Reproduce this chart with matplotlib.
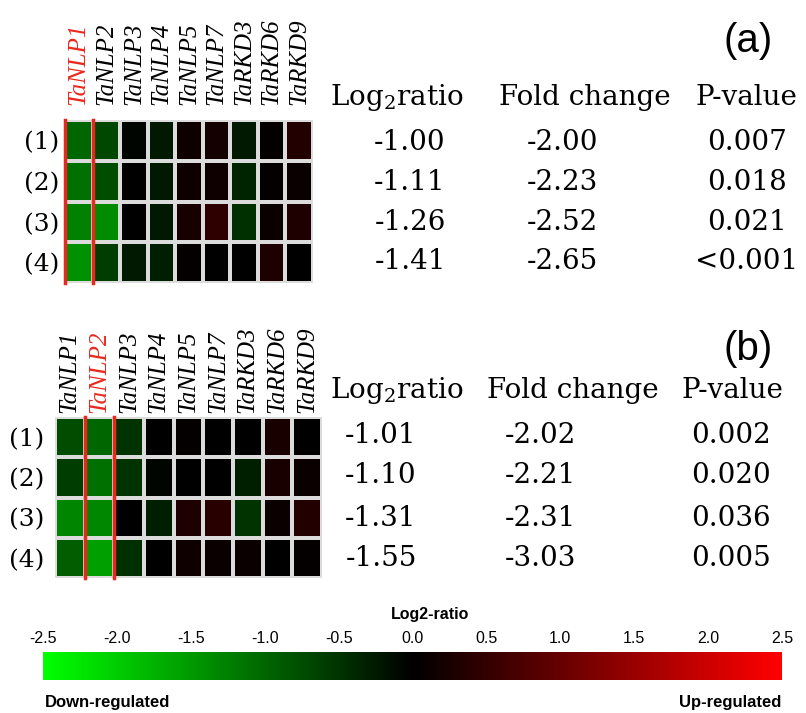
import numpy as np
import matplotlib
matplotlib.use('Agg')
import matplotlib.pyplot as plt
from matplotlib.colors import LinearSegmentedColormap, Normalize
from matplotlib.cm import ScalarMappable

# Genes (columnas) y lineas (filas) de los dos heatmaps
genes = ['TaNLP1', 'TaNLP2', 'TaNLP3', 'TaNLP4', 'TaNLP5',
         'TaNLP7', 'TaRKD3', 'TaRKD6', 'TaRKD9']
row_labels = ['(1)', '(2)', '(3)', '(4)']

# Log2 ratio estimado a partir del color de cada celda
heat_a = np.array([
    [-1.00, -0.70, -0.05, -0.25, 0.15, 0.20, -0.25, 0.05, 0.35],
    [-1.11, -0.75, 0.00, -0.25, 0.15, 0.15, -0.35, 0.05, 0.10],
    [-1.26, -1.35, 0.00, -0.25, 0.25, 0.45, -0.45, 0.10, 0.30],
    [-1.41, -0.60, -0.25, -0.30, 0.05, 0.00, 0.00, 0.30, 0.00],
])
heat_b = np.array([
    [-0.75, -1.01, -0.50, 0.00, 0.05, 0.00, 0.00, 0.25, 0.00],
    [-0.60, -1.10, -0.50, -0.05, 0.00, 0.00, -0.30, 0.25, 0.10],
    [-1.30, -1.31, 0.00, -0.30, 0.30, 0.40, -0.50, 0.10, 0.35],
    [-0.90, -1.55, -0.45, 0.00, 0.15, 0.10, 0.10, 0.00, 0.05],
])

# Tablas de la derecha
headers = ['Log$_2$ratio', 'Fold change', 'P-value']
log2_a = ['-1.00', '-1.11', '-1.26', '-1.41']
fold_a = ['-2.00', '-2.23', '-2.52', '-2.65']
pval_a = ['0.007', '0.018', '0.021', '<0.001']
log2_b = ['-1.01', '-1.10', '-1.31', '-1.55']
fold_b = ['-2.02', '-2.21', '-2.31', '-3.03']
pval_b = ['0.002', '0.020', '0.036', '0.005']

# Barra de color
cbar_ticks = [-2.5, -2.0, -1.5, -1.0, -0.5, 0.0, 0.5, 1.0, 1.5, 2.0, 2.5]
cbar_labels = ['-2.5', '-2.0', '-1.5', '-1.0', '-0.5', '0.0',
               '0.5', '1.0', '1.5', '2.0', '2.5']

W, H = 806, 713
RED = '#e8281e'
plt.rcParams['mathtext.fontset'] = 'dejavuserif'

cmap = LinearSegmentedColormap.from_list('gkr', ['#00ff00', '#000000', '#ff0000'])
norm = Normalize(vmin=-2.5, vmax=2.5)

fig = plt.figure(figsize=(W / 100, H / 100), dpi=100)


def add_axes_px(x0: float, y0: float, x1: float, y1: float):
    """Crea unos ejes a partir de una caja en pixeles (origen arriba a la izquierda)."""
    return fig.add_axes([x0 / W, 1 - y1 / H, (x1 - x0) / W, (y1 - y0) / H])


def text_px(x: float, y: float, s: str, **kwargs):
    fig.text(x / W, 1 - y / H, s, **kwargs)


def draw_heatmap(ax, values: np.ndarray, highlight: int, red_lines: list,
                 col_pad: float, row_pad: float) -> None:
    """
    Dibuja el heatmap con etiquetas de genes arriba y lineas rojas
    marcando el gen silenciado.
    """
    ax.pcolormesh(values, cmap=cmap, norm=norm, edgecolors='#dcdcdc', linewidth=1.6)
    ax.set_xlim(0, values.shape[1])
    ax.set_ylim(values.shape[0], 0)

    ax.set_xticks(np.arange(values.shape[1]) + 0.5)
    ax.set_xticklabels(genes, rotation=90, fontfamily='Liberation Serif',
                       fontstyle='italic', fontsize=18)
    ax.xaxis.tick_top()
    ax.get_xticklabels()[highlight].set_color(RED)

    ax.set_yticks(np.arange(values.shape[0]) + 0.5)
    ax.set_yticklabels(row_labels, fontfamily='DejaVu Serif', fontsize=18)

    ax.tick_params(axis='x', length=0, pad=col_pad)
    ax.tick_params(axis='y', length=0, pad=row_pad)
    for s in ax.spines.values():
        s.set_visible(False)

    for x in red_lines:
        ax.axvline(x, color=RED, linewidth=2.5, clip_on=False)


def draw_table(head_y: float, rows_y: list, head_x: list, col_x: list, cols: list) -> None:
    for hx, h in zip(head_x, headers):
        text_px(hx, head_y, h, ha='center', va='baseline',
                fontfamily='DejaVu Serif', fontsize=20)
    for cx, col in zip(col_x, cols):
        for y, v in zip(rows_y, col):
            text_px(cx, y, v, ha='center', va='baseline',
                    fontfamily='DejaVu Serif', fontsize=20)


# Panel (a)
ax_a = add_axes_px(65, 120, 313, 283)
draw_heatmap(ax_a, heat_a, 0, [0, 1], col_pad=11, row_pad=4)
draw_table(105, [150, 190, 230, 269], [397, 585, 746], [410, 562, 747],
           [log2_a, fold_a, pval_a])
text_px(748, 41, '(a)', ha='center', va='center', fontfamily='Liberation Sans', fontsize=29)

# Panel (b)
ax_b = add_axes_px(55, 417, 322, 578)
draw_heatmap(ax_b, heat_b, 1, [1, 2], col_pad=3, row_pad=8)
draw_table(398, [443, 483, 526, 566], [397, 573, 732], [381, 540, 731],
           [log2_b, fold_b, pval_b])
text_px(748, 349, '(b)', ha='center', va='center', fontfamily='Liberation Sans', fontsize=29)

# Barra de color
cax = add_axes_px(43, 652, 782, 680)
cb = fig.colorbar(ScalarMappable(norm=norm, cmap=cmap), cax=cax, orientation='horizontal')
cb.outline.set_visible(False)
cax.xaxis.set_ticks_position('top')
cax.set_xticks(cbar_ticks)
cax.set_xticklabels(cbar_labels, fontfamily='Liberation Sans', fontsize=11.5)
cax.tick_params(axis='x', length=0, pad=4)

text_px(430, 615, 'Log2-ratio', ha='center', va='center',
        fontfamily='Liberation Sans', fontweight='bold', fontsize=11.5)
text_px(45, 703, 'Down-regulated', ha='left', va='center',
        fontfamily='Liberation Sans', fontweight='bold', fontsize=12)
text_px(781, 703, 'Up-regulated', ha='right', va='center',
        fontfamily='Liberation Sans', fontweight='bold', fontsize=12)

fig.savefig('out.png', dpi=100)
